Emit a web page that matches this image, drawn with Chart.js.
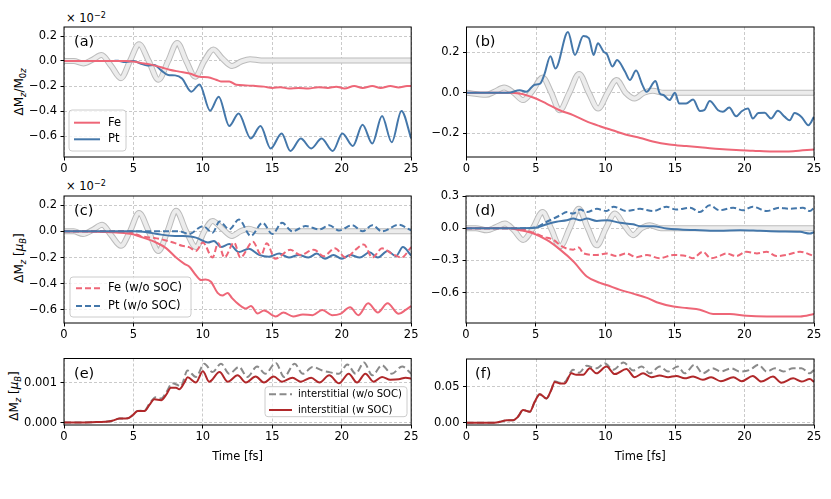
<!DOCTYPE html>
<html lang="en">
<head>
<meta charset="UTF-8" />
<title>Magnetization dynamics</title>
<script src="https://cdn.jsdelivr.net/npm/chart.js@4.4.0/dist/chart.umd.min.js"></script>
<style>
  html, body { margin: 0; padding: 0; background: #fff; }
  #fig { position: relative; width: 831px; height: 499px; overflow: hidden; font-family: "DejaVu Sans", sans-serif; color: #000; }
  #fig canvas { position: absolute; }
  .ylab { position: absolute; transform: translate(-50%, -50%) rotate(-90deg); white-space: nowrap; font-size: 12px; }
  .exp { position: absolute; transform: translateY(-50%); white-space: nowrap; font-size: 11.5px; }
  sub { font-size: 70%; vertical-align: -0.3em; line-height: 0; }
  sup { font-size: 70%; vertical-align: 0.55em; line-height: 0; }
</style>
</head>
<body>
<div id="fig">
  <div class="ylab" style="left:19px; top:92px">ΔM<sub><i>z</i></sub>/M<sub>0<i>z</i></sub></div>
  <div class="ylab" style="left:19px; top:258px">ΔM<sub><i>z</i></sub> [<i>μ</i><sub><i>B</i></sub>]</div>
  <div class="ylab" style="left:14px; top:396px">ΔM<sub><i>z</i></sub> [<i>μ</i><sub><i>B</i></sub>]</div>
  <div class="exp" style="left:66px; top:18px">× 10<sup>−2</sup></div>
  <div class="exp" style="left:66px; top:186px">× 10<sup>−2</sup></div>
</div>
<script>
// ---- data (time in fs) ----
const xTicks = [0, 5, 10, 15, 20, 25];

// (a) total magnetization change, units of 1e-2
const grayA_t = [0, 0.7, 1.4, 2.05, 2.7, 3.4, 4.1, 4.75, 5.4, 6.1, 6.8, 7.5, 8.15, 8.8, 9.45, 10.1, 10.75, 11.4, 12.1, 12.75, 13.4, 14.2, 25];
const grayA_y = [0, 0, -0.02, 0.01, 0.047, -0.04, -0.137, 0, 0.134, 0, -0.15, 0, 0.145, 0, -0.125, 0, 0.092, 0.02, -0.04, -0.005, 0.015, 0.005, 0.005];
const feA_t = [0, 4.5, 5, 5.5, 6.2, 7.0, 7.6, 8.3, 9.05, 9.76, 10.36, 10.95, 11.3, 11.9, 12.4, 13.1, 13.8, 14.4, 15, 15.6, 16.2, 16.9, 17.6, 18.3, 19.0, 19.6, 20.2, 20.9, 21.5, 22.2, 22.8, 23.5, 24.1, 24.7, 25];
const feA_y = [0, 0, -0.005, -0.015, -0.027, -0.05, -0.07, -0.085, -0.1, -0.127, -0.13, -0.15, -0.163, -0.163, -0.19, -0.195, -0.2, -0.205, -0.215, -0.21, -0.22, -0.215, -0.22, -0.21, -0.215, -0.205, -0.22, -0.2, -0.215, -0.2, -0.215, -0.2, -0.212, -0.2, -0.2];
const ptA_t = [0, 3.5, 3.9, 4.3, 4.7, 5.0, 5.5, 6.0, 6.5, 7.0, 7.5, 8.0, 8.5, 9.17, 9.76, 10.52, 11.14, 11.9, 12.57, 13.45, 14.15, 14.88, 15.67, 16.3, 17.05, 17.8, 18.55, 19.35, 20.05, 20.8, 21.5, 22.2, 22.9, 23.6, 24.3, 25];
const ptA_y = [0, 0, 0.003, -0.008, -0.004, 0.0, -0.02, -0.035, -0.032, -0.075, -0.112, -0.115, -0.14, -0.245, -0.187, -0.397, -0.285, -0.52, -0.42, -0.62, -0.52, -0.70, -0.58, -0.72, -0.62, -0.70, -0.62, -0.72, -0.58, -0.68, -0.51, -0.66, -0.44, -0.65, -0.40, -0.62];

// (b)
const grayB_t = [0, 1.4, 2.0, 2.7, 3.4, 4.07, 4.75, 5.47, 6.1, 6.7, 7.4, 8.1, 8.8, 9.47, 10.15, 10.8, 11.45, 12.1, 12.75, 13.4, 14.2, 25];
const grayB_y = [0, -0.01, 0.005, 0.026, 0, -0.036, 0.01, 0.076, 0, -0.086, 0, 0.093, 0, -0.078, 0, 0.063, 0, -0.028, 0, 0.01, 0, 0];
const feB_t = [0, 3.0, 3.8, 4.8, 5.75, 6.7, 7.67, 8.6, 9.6, 10.5, 11.5, 12.5, 13.4, 14.6, 15.8, 17.0, 18.2, 19.4, 20.6, 22.0, 23.5, 25];
const feB_y = [0, 0, -0.003, -0.023, -0.053, -0.086, -0.11, -0.14, -0.165, -0.185, -0.207, -0.223, -0.24, -0.255, -0.263, -0.27, -0.278, -0.283, -0.286, -0.29, -0.288, -0.28];
const ptB_t = [0, 3.0, 3.83, 4.3, 4.9, 5.3, 5.6, 6.04, 6.4, 7.3, 7.8, 8.4, 8.8, 9.15, 9.45, 9.9, 10.07, 10.5, 10.83, 11.4, 11.75, 12.2, 12.66, 12.95, 13.6, 13.9, 14.2, 14.6, 15.0, 15.3, 15.8, 16.3, 16.8, 17.1, 17.5, 18.1, 18.45, 18.9, 19.4, 19.8, 20.25, 20.6, 21.0, 21.45, 21.9, 22.4, 22.9, 23.25, 23.6, 24.1, 24.6, 25];
const ptB_y = [0, 0, 0.013, 0.005, 0.04, 0.045, 0.09, 0.18, 0.12, 0.3, 0.187, 0.28, 0.27, 0.187, 0.245, 0.2, 0.195, 0.13, 0.162, 0.105, 0.063, 0.11, 0.038, 0.005, 0.058, -0.003, -0.012, -0.036, 0.0, -0.053, -0.053, -0.033, -0.09, -0.086, -0.04, -0.086, -0.094, -0.073, -0.116, -0.091, -0.078, -0.127, -0.1, -0.099, -0.127, -0.089, -0.119, -0.136, -0.1, -0.119, -0.16, -0.119];

// (c) units of 1e-2 muB
const grayC_t = [0, 0.7, 1.36, 2.05, 2.75, 3.4, 4.1, 4.75, 5.4, 6.1, 6.8, 7.45, 8.07, 8.8, 9.5, 10.1, 10.7, 11.4, 12.1, 12.7, 13.3, 14.0, 25];
const grayC_y = [0, 0, -0.02, 0.01, 0.05, -0.03, -0.11, 0.0, 0.14, 0.0, -0.15, 0.0, 0.157, 0.0, -0.12, 0.0, 0.08, 0.02, -0.035, 0.0, 0.02, 0.0, 0.0];
const feC_t = [0, 4.0, 4.96, 5.7, 6.63, 7.35, 8.07, 8.67, 9.03, 9.5, 9.87, 10.2, 10.58, 11.06, 11.4, 11.78, 12.1, 12.6, 13.1, 13.46, 13.94, 14.4, 15.25, 15.8, 16.5, 17.2, 17.9, 18.6, 19.3, 19.9, 20.6, 21.2, 21.9, 22.6, 23.3, 24.1, 24.6, 25];
const feC_y = [0, -0.01, -0.022, -0.048, -0.085, -0.128, -0.2, -0.248, -0.27, -0.335, -0.372, -0.368, -0.385, -0.47, -0.49, -0.47, -0.51, -0.56, -0.59, -0.57, -0.627, -0.605, -0.65, -0.62, -0.65, -0.635, -0.64, -0.6, -0.64, -0.63, -0.58, -0.64, -0.55, -0.62, -0.55, -0.63, -0.6, -0.57];
const ptC_t = [0, 5.0, 6.2, 7.0, 8.0, 8.57, 9.5, 10.36, 10.8, 11.3, 11.9, 12.6, 13.3, 14.05, 14.76, 15.5, 16.2, 16.9, 17.6, 18.2, 18.8, 19.4, 20.0, 20.6, 21.3, 22.0, 22.6, 23.3, 23.9, 24.4, 25];
const ptC_y = [0, 0, -0.01, -0.025, -0.035, -0.036, -0.048, -0.085, -0.073, -0.12, -0.097, -0.158, -0.133, -0.18, -0.194, -0.17, -0.2, -0.18, -0.2, -0.17, -0.21, -0.18, -0.21, -0.18, -0.2, -0.16, -0.2, -0.15, -0.19, -0.12, -0.185];
const feCnosoc_t = [0, 4.5, 5.0, 5.5, 6.0, 6.5, 7.0, 7.5, 8.0, 8.5, 9.0, 9.5, 10.0, 10.7, 11.1, 11.55, 12.25, 12.7, 13.6, 14.2, 14.6, 15.2, 16.3, 17.0, 18.0, 18.7, 19.5, 20.3, 21.0, 21.6, 22.2, 22.9, 23.6, 24.3, 25];
const feCnosoc_y = [0, 0, -0.015, -0.035, -0.045, -0.05, -0.06, -0.075, -0.09, -0.11, -0.12, -0.15, -0.085, -0.2, -0.09, -0.2, -0.085, -0.2, -0.08, -0.18, -0.09, -0.21, -0.14, -0.18, -0.14, -0.19, -0.13, -0.2, -0.14, -0.1, -0.2, -0.13, -0.17, -0.2, -0.12];
const ptCnosoc_t = [0, 7.0, 8.3, 9.0, 10.0, 10.7, 11.2, 11.9, 12.6, 13.45, 14.3, 15.0, 15.7, 16.45, 17.4, 18.4, 19.1, 19.8, 20.75, 21.5, 22.2, 22.9, 24.1, 25];
const ptCnosoc_y = [0, 0, 0.0, -0.02, 0.04, -0.01, 0.075, 0.015, 0.09, -0.035, 0.065, -0.02, 0.065, 0.0, 0.04, 0.015, 0.047, 0.007, 0.047, 0.0, 0.047, 0.0, 0.05, 0.007];

// (d)
const grayD_t = [0, 0.7, 1.5, 2.15, 2.8, 3.45, 4.1, 4.8, 5.5, 6.1, 6.76, 7.45, 8.1, 8.75, 9.4, 10.05, 10.7, 11.35, 12.0, 12.6, 13.2, 14.0, 25];
const grayD_y = [0, 0, -0.02, 0.01, 0.043, -0.02, -0.11, 0.0, 0.15, 0.0, -0.17, 0.0, 0.18, 0.0, -0.16, 0.0, 0.136, 0.03, -0.065, 0.0, 0.028, 0.0, 0.0];
const feD_t = [0, 3.0, 3.9, 4.85, 5.8, 6.76, 7.72, 8.68, 9.63, 10.1, 11.07, 12.0, 13.0, 13.7, 14.9, 15.85, 16.8, 17.75, 18.95, 20.15, 21.6, 22.5, 24.0, 25];
const feD_y = [0, 0, -0.019, -0.05, -0.11, -0.2, -0.31, -0.45, -0.51, -0.53, -0.575, -0.61, -0.65, -0.69, -0.73, -0.745, -0.76, -0.8, -0.8, -0.817, -0.823, -0.823, -0.823, -0.8];
const ptD_t = [0, 4.0, 5.1, 5.8, 6.5, 7.24, 7.7, 8.2, 8.68, 9.4, 10.1, 11.07, 12.0, 12.5, 13.45, 14.4, 15.4, 16.8, 18.2, 19.7, 21.1, 22.5, 24.0, 24.7, 25];
const ptD_y = [0, 0, 0.006, 0.037, 0.06, 0.074, 0.09, 0.074, 0.09, 0.068, 0.074, 0.05, 0.037, 0.019, 0.019, -0.003, -0.012, -0.019, -0.025, -0.019, -0.025, -0.031, -0.034, -0.05, -0.037];
const feDnosoc_t = [0, 3.5, 4.85, 5.57, 6.3, 6.76, 7.24, 7.7, 8.1, 8.44, 9.4, 10.1, 10.8, 11.5, 12.26, 13.0, 13.9, 14.9, 15.85, 16.3, 17.0, 17.6, 18.2, 18.7, 19.4, 20.15, 20.9, 21.6, 22.3, 23.0, 24.0, 25];
const feDnosoc_y = [0, 0, -0.043, -0.08, -0.11, -0.158, -0.19, -0.2, -0.18, -0.235, -0.25, -0.235, -0.26, -0.235, -0.27, -0.25, -0.28, -0.25, -0.26, -0.28, -0.22, -0.28, -0.26, -0.235, -0.26, -0.22, -0.235, -0.22, -0.26, -0.25, -0.22, -0.26];
const ptDnosoc_t = [0, 4.5, 5.1, 5.8, 6.3, 6.76, 7.24, 7.7, 8.2, 8.68, 9.4, 10.1, 10.6, 11.5, 12.5, 13.45, 14.4, 15.1, 16.1, 16.8, 17.5, 18.2, 19.2, 19.9, 20.6, 21.6, 22.5, 23.25, 24.2, 24.7, 25];
const ptDnosoc_y = [0, 0, 0.012, 0.06, 0.09, 0.12, 0.15, 0.136, 0.173, 0.15, 0.18, 0.16, 0.2, 0.16, 0.18, 0.16, 0.2, 0.173, 0.19, 0.15, 0.213, 0.167, 0.19, 0.167, 0.2, 0.16, 0.19, 0.18, 0.19, 0.16, 0.19];

// (e) interstitial
const intE_t = [0, 2.0, 3.4, 4.0, 4.6, 4.96, 5.3, 5.8, 6.15, 6.5, 7.0, 7.35, 7.7, 8.07, 8.3, 8.67, 8.9, 9.5, 10.0, 10.46, 11.2, 11.8, 12.5, 13.1, 13.8, 14.4, 15.1, 15.7, 16.45, 17.05, 17.8, 18.4, 19.1, 19.8, 20.5, 21.1, 21.7, 22.3, 22.9, 23.5, 24.1, 24.6, 25];
const intE_y = [0, 0.00001, 0.00004, 0.0001, 0.00011, 0.00019, 0.00029, 0.00029, 0.00044, 0.00058, 0.00056, 0.00069, 0.00087, 0.00087, 0.00083, 0.001, 0.00113, 0.001, 0.00128, 0.00102, 0.00126, 0.00102, 0.00118, 0.001, 0.00115, 0.001, 0.00115, 0.00102, 0.00112, 0.00102, 0.00112, 0.001, 0.00118, 0.00098, 0.00122, 0.001, 0.00122, 0.00102, 0.00114, 0.00107, 0.00108, 0.00112, 0.0011];
const intEnosoc_t = [0, 2.0, 3.4, 4.0, 4.6, 4.96, 5.3, 5.8, 6.15, 6.6, 7.0, 7.35, 7.8, 8.1, 8.4, 8.9, 9.5, 10.1, 10.7, 11.3, 11.9, 12.6, 13.2, 13.9, 14.5, 15.25, 15.85, 16.6, 17.2, 17.9, 18.6, 19.1, 19.8, 20.4, 21.0, 21.6, 22.2, 22.9, 23.6, 24.35, 25];
const intEnosoc_y = [0, 0.00001, 0.00004, 0.0001, 0.00011, 0.00019, 0.00029, 0.0003, 0.00047, 0.00063, 0.0006, 0.00075, 0.00098, 0.00095, 0.0009, 0.0013, 0.00114, 0.00147, 0.00126, 0.00147, 0.00122, 0.00139, 0.00114, 0.0014, 0.00122, 0.00149, 0.00114, 0.00147, 0.00122, 0.00139, 0.0013, 0.00126, 0.00122, 0.00145, 0.00122, 0.0015, 0.00118, 0.00143, 0.00122, 0.0014, 0.00122];

// (f) interstitial
const intF_t = [0, 2.0, 2.4, 2.9, 3.35, 3.7, 4.07, 4.55, 4.9, 5.27, 5.75, 6.1, 6.35, 6.7, 7.07, 7.55, 7.9, 8.4, 8.87, 9.35, 10.07, 10.67, 11.5, 12.1, 12.7, 13.3, 13.9, 14.5, 15.1, 15.7, 16.3, 17.0, 17.6, 18.3, 19.2, 19.8, 20.6, 21.2, 22.05, 22.65, 23.5, 24.1, 24.7, 25];
const intF_y = [0, 0.0003, 0.0014, 0.0037, 0.0037, 0.0084, 0.0178, 0.0154, 0.029, 0.04, 0.034, 0.046, 0.057, 0.055, 0.055, 0.069, 0.067, 0.067, 0.076, 0.069, 0.0785, 0.068, 0.075, 0.0636, 0.069, 0.0636, 0.066, 0.0636, 0.0654, 0.062, 0.0645, 0.06, 0.0636, 0.058, 0.0636, 0.058, 0.0654, 0.0575, 0.0645, 0.056, 0.062, 0.0575, 0.061, 0.057];
const intFnosoc_t = [0, 2.0, 2.4, 2.9, 3.35, 3.7, 4.07, 4.55, 4.9, 5.27, 5.75, 6.1, 6.35, 6.7, 7.07, 7.67, 8.1, 8.63, 9.35, 9.95, 10.55, 11.3, 12.0, 12.6, 13.2, 13.9, 14.5, 15.2, 15.7, 16.4, 17.0, 17.7, 18.3, 19.05, 19.65, 20.4, 21.0, 21.6, 22.2, 22.8, 23.5, 24.1, 24.7, 25];
const intFnosoc_y = [0, 0.0003, 0.0014, 0.0037, 0.0037, 0.0084, 0.0178, 0.0154, 0.029, 0.04, 0.034, 0.046, 0.058, 0.056, 0.057, 0.074, 0.07, 0.0795, 0.076, 0.083, 0.074, 0.084, 0.073, 0.0785, 0.069, 0.0785, 0.0715, 0.0785, 0.069, 0.081, 0.069, 0.076, 0.0715, 0.076, 0.0715, 0.074, 0.081, 0.0715, 0.076, 0.0715, 0.076, 0.076, 0.069, 0.074];

const yTicksA = [-0.6, -0.4, -0.2, 0, 0.2];
const yTicksB = [-0.2, 0, 0.2];
const yTicksC = [-0.6, -0.4, -0.2, 0, 0.2];
const yTicksD = [-0.6, -0.3, 0, 0.3];
const yTicksE = [0, 0.001];
const yTicksF = [0, 0.05];

// ---- styling ----
const FONT = '"DejaVu Sans", sans-serif';
const FE = '#ee6677';
const PT = '#4477aa';
const INT = '#b0282a';
const INT_NO = '#8a8a8a';

function pts(t, y) {
    return t.map((v, i) => ({ x: v, y: y[i] }));
}

function line(t, y, color, dash) {
    return {
        data: pts(t, y),
        borderColor: color,
        borderWidth: 2,
        borderDash: dash || [],
        pointRadius: 0,
        cubicInterpolationMode: 'monotone',
        fill: false
    };
}

// the pump pulse is drawn as a light band with a grey rim
function pulse(t, y) {
    return [
        { data: pts(t, y), borderColor: '#bcbcbc', borderWidth: 6, pointRadius: 0, cubicInterpolationMode: 'monotone', fill: false },
        { data: pts(t, y), borderColor: '#ececec', borderWidth: 4, pointRadius: 0, cubicInterpolationMode: 'monotone', fill: false }
    ];
}

function fmt(v, dec) {
    return (v < 0 ? '\u2212' : '') + Math.abs(v).toFixed(dec);
}

const decor = {
    id: 'decor',
    afterDatasetsDraw(chart, args, o) {
        const ctx = chart.ctx;
        const a = chart.chartArea;
        ctx.save();
        ctx.strokeStyle = '#000';
        ctx.lineWidth = 1;
        ctx.setLineDash([]);
        ctx.strokeRect(a.left, a.top, a.right - a.left, a.bottom - a.top);

        ctx.fillStyle = '#000';
        ctx.font = '14.5px ' + FONT;
        ctx.textAlign = 'left';
        ctx.textBaseline = 'middle';
        ctx.fillText(o.tag, a.left + o.tagDx, a.top + 15.5);

        const lg = o.legend;
        if (lg) {
            const bx = a.left + lg.dx, by = a.top + lg.dy;
            ctx.beginPath();
            ctx.roundRect(bx, by, lg.w, lg.h, 3);
            ctx.fillStyle = 'rgba(255,255,255,0.8)';
            ctx.fill();
            ctx.strokeStyle = '#cccccc';
            ctx.lineWidth = 1;
            ctx.stroke();
            ctx.font = lg.size + 'px ' + FONT;
            lg.items.forEach((it, i) => {
                const yy = by + lg.rows[i];
                ctx.beginPath();
                ctx.setLineDash(it.dash || []);
                ctx.strokeStyle = it.color;
                ctx.lineWidth = 2;
                ctx.moveTo(bx + lg.l0, yy);
                ctx.lineTo(bx + lg.l1, yy);
                ctx.stroke();
                ctx.setLineDash([]);
                ctx.fillStyle = '#000';
                ctx.fillText(it.label, bx + lg.tx, yy);
            });
        }
        ctx.restore();
    }
};

const DASH = [6, 3];
const DASH_E = [7, 3.5];

const panels = [
    {
        box: [0, 0, 420, 176], area: [64, 27, 412, 157],
        yMin: -0.768, yMax: 0.272, yTicks: yTicksA, dec: 1, tag: '(a)', tagDx: 10,
        datasets: [...pulse(grayA_t, grayA_y), line(ptA_t, ptA_y, PT), line(feA_t, feA_y, FE)],
        legend: { dx: 5, dy: 83, w: 57, h: 41, size: 11.5, rows: [12.7, 29.3], l0: 5, l1: 31, tx: 39,
            items: [{ label: 'Fe', color: FE }, { label: 'Pt', color: PT }] }
    },
    {
        box: [420, 0, 411, 176], area: [466.5, 27, 814, 157],
        yMin: -0.317, yMax: 0.325, yTicks: yTicksB, dec: 1, tag: '(b)', tagDx: 8.5,
        datasets: [...pulse(grayB_t, grayB_y), line(feB_t, feB_y, FE), line(ptB_t, ptB_y, PT)]
    },
    {
        box: [0, 176, 420, 166], area: [64, 196, 412, 323],
        yMin: -0.70, yMax: 0.27, yTicks: yTicksC, dec: 1, tag: '(c)', tagDx: 10,
        datasets: [...pulse(grayC_t, grayC_y), line(feC_t, feC_y, FE), line(ptC_t, ptC_y, PT),
            line(feCnosoc_t, feCnosoc_y, FE, DASH), line(ptCnosoc_t, ptCnosoc_y, PT, DASH)],
        legend: { dx: 6, dy: 81, w: 121, h: 40, size: 11.5, rows: [11.3, 29], l0: 6, l1: 30, tx: 38,
            items: [{ label: 'Fe (w/o SOC)', color: FE, dash: DASH }, { label: 'Pt (w/o SOC)', color: PT, dash: DASH }] }
    },
    {
        box: [420, 176, 411, 166], area: [466, 196, 814, 323],
        yMin: -0.884, yMax: 0.3, yTicks: yTicksD, dec: 1, tag: '(d)', tagDx: 9,
        datasets: [...pulse(grayD_t, grayD_y), line(feD_t, feD_y, FE), line(ptD_t, ptD_y, PT),
            line(feDnosoc_t, feDnosoc_y, FE, DASH), line(ptDnosoc_t, ptDnosoc_y, PT, DASH)]
    },
    {
        box: [0, 342, 420, 122], area: [64, 358.5, 412, 425],
        yMin: -0.00006, yMax: 0.0016, yTicks: yTicksE, dec: 3, tag: '(e)', tagDx: 10, xTitle: 'Time [fs]',
        datasets: [line(intEnosoc_t, intEnosoc_y, INT_NO, DASH_E), line(intE_t, intE_y, INT)],
        legend: { dx: 201, dy: 28.2, w: 142, h: 30, size: 10, rows: [7.6, 23.3], l0: 4, l1: 27, tx: 33,
            items: [{ label: 'interstitial (w/o SOC)', color: INT_NO, dash: DASH_E }, { label: 'interstitial (w SOC)', color: INT }] }
    },
    {
        box: [420, 342, 411, 122], area: [466.5, 359, 814, 425],
        yMin: -0.003, yMax: 0.089, yTicks: yTicksF, dec: 2, tag: '(f)', tagDx: 8.5, xTitle: 'Time [fs]',
        datasets: [line(intFnosoc_t, intFnosoc_y, INT_NO, DASH_E), line(intF_t, intF_y, INT)]
    }
];

function makePanel(p) {
    const [L, T, W, H] = p.box;
    const [x0, y0, x1, y1] = p.area;
    const cv = document.createElement('canvas');
    cv.width = W;
    cv.height = H;
    cv.style.left = L + 'px';
    cv.style.top = T + 'px';
    cv.style.width = W + 'px';
    cv.style.height = H + 'px';
    document.getElementById('fig').appendChild(cv);

    // first listed dataset is drawn first (underneath)
    p.datasets.forEach((d, i) => { d.order = 100 - i; });

    const grid = {
        color: '#bdbdbd',
        lineWidth: 0.8,
        tickColor: '#000',
        tickLength: 3.5,
        tickWidth: 1,
        tickBorderDash: []
    };

    return new Chart(cv, {
        type: 'line',
        data: { datasets: p.datasets },
        options: {
            responsive: false,
            animation: false,
            events: [],
            layout: { padding: { left: 0, top: y0 - T, right: L + W - x1, bottom: 0 } },
            scales: {
                x: {
                    type: 'linear', min: 0, max: 25,
                    afterBuildTicks: s => { s.ticks = xTicks.map(v => ({ value: v })); },
                    afterFit: s => { s.height = T + H - y1; },
                    grid: grid,
                    border: { display: false, dash: [3, 2] },
                    ticks: { color: '#000', font: { family: FONT, size: 11.5 }, padding: 1.5, maxRotation: 0, autoSkip: false,
                        callback: v => String(v) },
                    title: { display: !!p.xTitle, text: p.xTitle || '', color: '#000', font: { family: FONT, size: 11.5 },
                        padding: { top: 0, bottom: 0 } }
                },
                y: {
                    type: 'linear', min: p.yMin, max: p.yMax,
                    afterBuildTicks: s => { s.ticks = p.yTicks.map(v => ({ value: v })); },
                    afterFit: s => { s.width = x0 - L; },
                    grid: grid,
                    border: { display: false, dash: [3, 2] },
                    ticks: { color: '#000', font: { family: FONT, size: 11.5 }, padding: 3.5, autoSkip: false,
                        callback: v => fmt(v, p.dec) }
                }
            },
            plugins: {
                legend: { display: false },
                tooltip: { enabled: false },
                decor: { tag: p.tag, tagDx: p.tagDx, legend: p.legend }
            }
        },
        plugins: [decor]
    });
}

panels.forEach(makePanel);
</script>
</body>
</html>
